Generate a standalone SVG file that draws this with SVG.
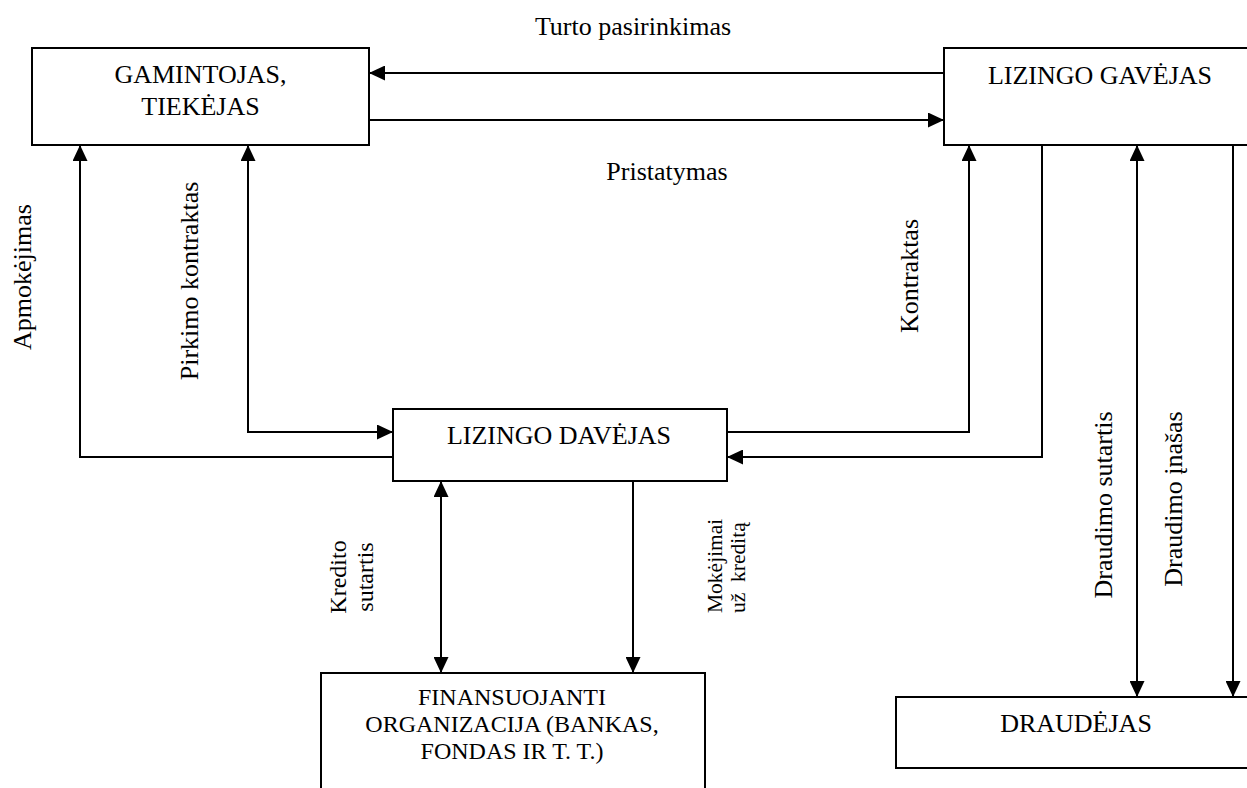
<svg xmlns="http://www.w3.org/2000/svg" width="1247" height="788" viewBox="0 0 1247 788">
  <style>
    .box { fill: #ffffff; stroke: #000000; stroke-width: 2; }
    .lbl { font-family: "Liberation Serif", "Times New Roman", serif; font-size: 26px; fill: #000000; text-anchor: middle; }
    .small { font-size: 24px; }
    .tiny { font-size: 21.5px; text-anchor: start; }
    .edge { fill: none; stroke: #000000; stroke-width: 2; }
  </style>
  <defs>
    <marker id="arrow" markerUnits="userSpaceOnUse" markerWidth="16" markerHeight="15" refX="16" refY="7.5" orient="auto-start-reverse" viewBox="0 0 16 15">
      <path d="M0,0 L16,7.5 L0,15 Z" fill="#000000"/>
    </marker>
  </defs>

  <rect width="1247" height="788" fill="#ffffff"/>

  <!-- connectors -->
  <g id="connectors">
    <path class="edge" d="M944,73 H369" marker-end="url(#arrow)"/>
    <path class="edge" d="M369,120 H944" marker-end="url(#arrow)"/>
    <path class="edge" d="M393,457 H80 V145" marker-end="url(#arrow)"/>
    <path class="edge" d="M393,432 H248 V145" marker-start="url(#arrow)" marker-end="url(#arrow)"/>
    <path class="edge" d="M727,432 H969 V145" marker-end="url(#arrow)"/>
    <path class="edge" d="M1042,145 V457 H727" marker-end="url(#arrow)"/>
    <path class="edge" d="M441,481 V673" marker-start="url(#arrow)" marker-end="url(#arrow)"/>
    <path class="edge" d="M633,481 V673" marker-end="url(#arrow)"/>
    <path class="edge" d="M1137,145 V697" marker-start="url(#arrow)" marker-end="url(#arrow)"/>
    <path class="edge" d="M1233,145 V697" marker-end="url(#arrow)"/>
  </g>

  <!-- connector labels -->
  <g id="edge-labels">
    <text class="lbl" x="633" y="35">Turto pasirinkimas</text>
    <text class="lbl" x="667" y="180">Pristatymas</text>
    <text class="lbl" transform="translate(31,277) rotate(-90)">Apmokėjimas</text>
    <text class="lbl" transform="translate(198,281) rotate(-90)">Pirkimo kontraktas</text>
    <text class="lbl" transform="translate(918,276) rotate(-90)">Kontraktas</text>
    <text class="lbl" transform="translate(1112,505) rotate(-90)">Draudimo sutartis</text>
    <text class="lbl" transform="translate(1182,499) rotate(-90)">Draudimo įnašas</text>
    <text class="lbl small" transform="translate(346,577) rotate(-90)">Kredito</text>
    <text class="lbl small" transform="translate(373,577) rotate(-90)">sutartis</text>
    <text class="lbl tiny" transform="translate(722,613) rotate(-90)">Mokėjimai</text>
    <text class="lbl tiny" transform="translate(745,613) rotate(-90)" xml:space="preserve">už  kreditą</text>
  </g>

  <!-- nodes -->
  <g id="gamintojas">
    <rect class="box" x="32" y="48" width="337" height="97"/>
    <text class="lbl" x="200.5" y="83">GAMINTOJAS,</text>
    <text class="lbl" x="200.5" y="115">TIEKĖJAS</text>
  </g>

  <g id="lizingo-gavejas">
    <rect class="box" x="944" y="48" width="320" height="97"/>
    <text class="lbl" x="1100" y="84">LIZINGO GAVĖJAS</text>
  </g>

  <g id="lizingo-davejas">
    <rect class="box" x="393" y="409" width="334" height="72"/>
    <text class="lbl" x="559" y="444">LIZINGO DAVĖJAS</text>
  </g>

  <g id="finansuojanti">
    <rect class="box" x="321" y="673" width="384" height="130"/>
    <text class="lbl small" x="512" y="704.5">FINANSUOJANTI</text>
    <text class="lbl small" x="512" y="731.5">ORGANIZACIJA (BANKAS,</text>
    <text class="lbl small" x="512" y="758.5">FONDAS IR T. T.)</text>
  </g>

  <g id="draudejas">
    <rect class="box" x="896" y="697" width="370" height="71"/>
    <text class="lbl" x="1076" y="732">DRAUDĖJAS</text>
  </g>
</svg>
